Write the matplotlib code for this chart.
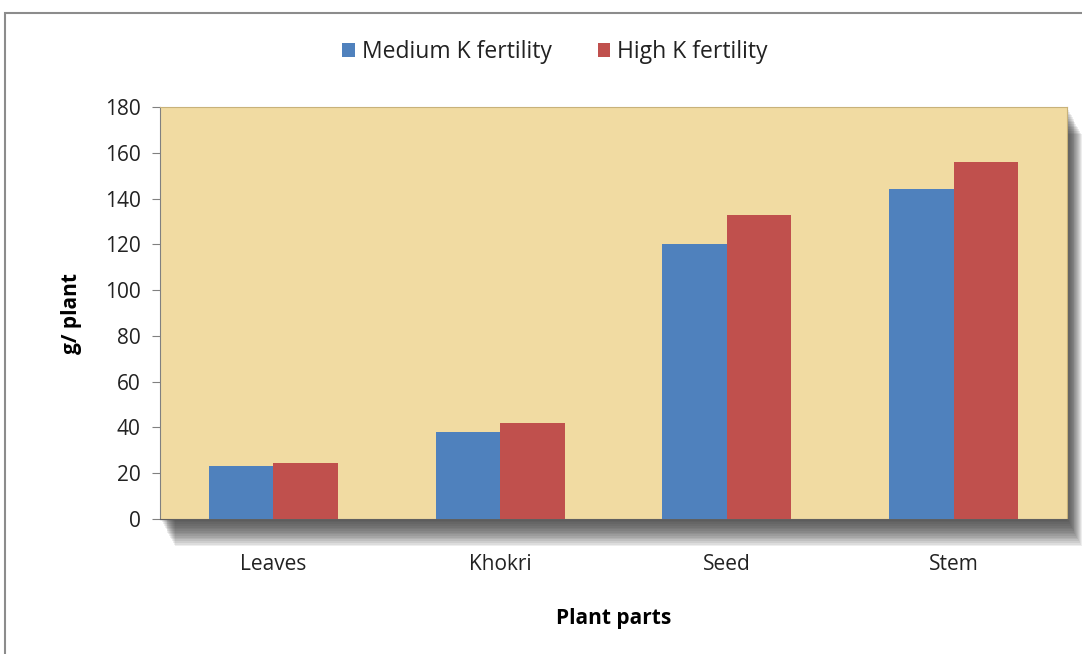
import numpy as np
import matplotlib.pyplot as plt
from matplotlib.patches import Rectangle

# data
parts = ["Leaves", "Khokri", "Seed", "Stem"]
medium_k = [23, 38, 120, 144]
high_k = [24.5, 42, 133, 156]
series_names = ["Medium K fertility", "High K fertility"]
yticks = [0, 20, 40, 60, 80, 100, 120, 140, 160, 180]

plt.rcParams['font.family'] = ['Open Sans', 'DejaVu Sans']
plt.rcParams['text.color'] = "#222222"

fig = plt.figure(figsize=(10.82, 6.54), dpi=100)
fig.patch.set_facecolor("white")

# outer chart frame
fig.patches.append(Rectangle((5 / 1082, -0.05), 1.1, 1 - 13 / 654 + 0.05,
                             transform=fig.transFigure, fill=False,
                             edgecolor="#8c8c8c", linewidth=1.5, zorder=-2))

ax_l, ax_b, ax_w, ax_h = 160 / 1082, 1 - 519 / 654, 907 / 1082, 412 / 654

# soft drop shadow behind plot area
for i in range(16):
    off = (i + 1) * 1.7
    fig.patches.append(Rectangle((ax_l + off * 0.55 / 1082, ax_b - off / 654),
                                 ax_w, ax_h, transform=fig.transFigure,
                                 facecolor="#303030", edgecolor="none",
                                 alpha=0.085, zorder=-1))

ax = fig.add_axes([ax_l, ax_b, ax_w, ax_h])
ax.set_zorder(1)
ax.set_facecolor("#F1DBA2")

x = np.arange(len(parts))
w = 0.285
ax.bar(x - w / 2, medium_k, w, color="#4F81BD", label=series_names[0], zorder=3)
ax.bar(x + w / 2, high_k, w, color="#C0504D", label=series_names[1], zorder=3)

ax.set_xlim(-0.5, len(parts) - 0.5)
ax.set_ylim(0, 180)
ax.set_yticks(yticks)
ax.set_xticks(x)
ax.set_xticklabels(parts)
ax.tick_params(axis="y", length=6, color="#808080", labelsize=15, pad=8,
               labelcolor="#222222")
ax.tick_params(axis="x", length=0, labelsize=15, pad=25, labelcolor="#222222")

for s in ["top", "right"]:
    ax.spines[s].set_color("#c8b27a")
    ax.spines[s].set_linewidth(0.8)
ax.spines["left"].set_color("#808080")
ax.spines["bottom"].set_color("#606060")

ax.set_ylabel("g/ plant", fontsize=15, fontweight="bold", labelpad=16)
ax.set_xlabel("Plant parts", fontsize=15, fontweight="bold", labelpad=24)

fig.legend(loc="center", bbox_to_anchor=(0.513, 1 - 52 / 654), ncol=2,
           frameon=False, fontsize=16.5, handlelength=0.55, handleheight=0.55,
           handletextpad=0.3, columnspacing=2.0)

fig.savefig("out.png", dpi=100)
